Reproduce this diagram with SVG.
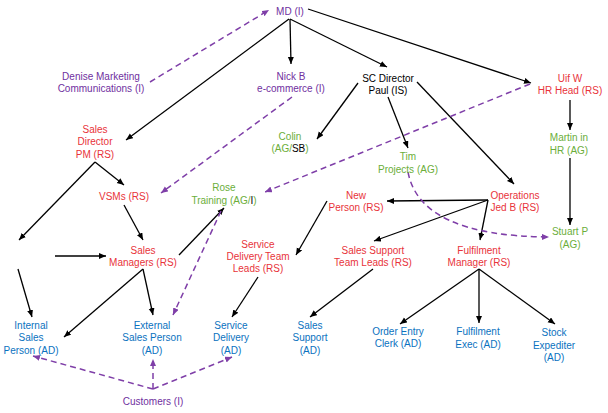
<svg xmlns="http://www.w3.org/2000/svg" width="608" height="413" viewBox="0 0 608 413">
<defs>
<marker id="ab" markerWidth="8" markerHeight="7" refX="7" refY="3" orient="auto" markerUnits="userSpaceOnUse"><path d="M0,0 L7,3 L0,6 Z" fill="#000"/></marker>
<marker id="ap" markerWidth="8" markerHeight="7" refX="7" refY="3" orient="auto" markerUnits="userSpaceOnUse"><path d="M0,0 L7,3 L0,6 Z" fill="#7F3FA8"/></marker>
<style>
text{font-family:"Liberation Sans",Arial,sans-serif;font-size:10px;text-anchor:middle}
.p{fill:#7030A0}.r{fill:#E8333A}.g{fill:#6BAE3A}.b{fill:#0A72C0}.k{fill:#000}
.s{stroke:#000;stroke-width:1.3;fill:none;marker-end:url(#ab)}
.d{stroke:#7F3FA8;stroke-width:1.5;fill:none;stroke-dasharray:6 4;marker-end:url(#ap)}
</style>
</defs>
<rect width="608" height="413" fill="#fff"/>
<g id="connectors">
<path class="s" d="M289,19 L126,140"/>
<path class="s" d="M290,19 L291,64"/>
<path class="s" d="M290,19 L387,67"/>
<path class="s" d="M308,9 L531,83"/>
<path class="s" d="M358,83 L317,139"/>
<path class="s" d="M388,97 L408,148"/>
<path class="s" d="M417,82 L514,184"/>
<path class="s" d="M570,100 L570,130"/>
<path class="s" d="M570,158 L570,225"/>
<path class="s" d="M95,162 L124,185"/>
<path class="s" d="M95,162 L19,240"/>
<path class="s" d="M124,205 L143,240"/>
<path class="s" d="M55,256 L106,256"/>
<path class="s" d="M18,269 L32,317"/>
<path class="s" d="M143,269 L64,337"/>
<path class="s" d="M143,269 L153,315"/>
<path class="s" d="M179,255 L224,208"/>
<path class="s" d="M327,201 L296,255"/>
<path class="s" d="M258,277 L232,317"/>
<path class="s" d="M488,200 L387,201"/>
<path class="s" d="M488,200 L374,241"/>
<path class="s" d="M488,200 L480,240"/>
<path class="s" d="M373,269 L310,317"/>
<path class="s" d="M479,269 L400,324"/>
<path class="s" d="M479,269 L479,323"/>
<path class="s" d="M479,269 L555,324"/>
<path class="d" d="M150,82 L269,10"/>
<path class="d" d="M292,97 L161,193"/>
<path class="d" d="M530,84 L265,192"/>
<path class="d" d="M221,211 L173,315"/>
<path class="d" d="M153,389 L33,356"/>
<path class="d" d="M153,389 L153,359"/>
<path class="d" d="M153,389 L232,357"/>
<path class="d" d="M408,172 Q420,236 549,237"/>
</g>
<g id="md"><text class="p" x="290" y="14.5">MD (I)</text></g>
<g id="denise"><text class="p" x="101" y="79.5">Denise Marketing</text><text class="p" x="101" y="91.8">Communications (I)</text></g>
<g id="nickb"><text class="p" x="291" y="79.5">Nick B</text><text class="p" x="291" y="91.8">e-commerce (I)</text></g>
<g id="scdirector"><text class="k" x="388" y="81.5">SC Director</text><text class="k" x="388" y="93.8">Paul (IS)</text></g>
<g id="uifw"><text class="r" x="570" y="81.5">Uif W</text><text class="r" x="570" y="93.8">HR Head (RS)</text></g>
<g id="salesdirector"><text class="r" x="95" y="133">Sales</text><text class="r" x="95" y="145.3">Director</text><text class="r" x="95" y="157.6">PM (RS)</text></g>
<g id="colin"><text class="g" x="290" y="139.5">Colin</text><text class="g" x="290" y="151.8">(AG/<tspan class="k">SB</tspan>)</text></g>
<g id="tim"><text class="g" x="408" y="160.2">Tim</text><text class="g" x="408" y="172.5">Projects (AG)</text></g>
<g id="martin"><text class="g" x="569" y="141.2">Martin in</text><text class="g" x="569" y="153.5">HR (AG)</text></g>
<g id="vsms"><text class="r" x="124" y="200.3">VSMs (RS)</text></g>
<g id="rose"><text class="g" x="224" y="191.2">Rose</text><text class="g" x="224" y="203.5">Training (AG/<tspan class="k">I</tspan>)</text></g>
<g id="newperson"><text class="r" x="356" y="199.2">New</text><text class="r" x="356" y="211.4">Person (RS)</text></g>
<g id="operations"><text class="r" x="515" y="198.5">Operations</text><text class="r" x="515" y="210.7">Jed B (RS)</text></g>
<g id="stuartp"><text class="g" x="570" y="235.2">Stuart P</text><text class="g" x="570" y="247.5">(AG)</text></g>
<g id="salesmanagers"><text class="r" x="143" y="254.2">Sales</text><text class="r" x="143" y="266.4">Managers (RS)</text></g>
<g id="sdtl"><text class="r" x="258" y="247.8">Service</text><text class="r" x="258" y="260.1">Delivery Team</text><text class="r" x="258" y="272.3">Leads (RS)</text></g>
<g id="sstl"><text class="r" x="373" y="253.5">Sales Support</text><text class="r" x="373" y="265.7">Team Leads (RS)</text></g>
<g id="fulfilmentmanager"><text class="r" x="479" y="254.2">Fulfilment</text><text class="r" x="479" y="266.4">Manager (RS)</text></g>
<g id="internalsales"><text class="b" x="31" y="329.2">Internal</text><text class="b" x="31" y="341.4">Sales</text><text class="b" x="31" y="353.6">Person (AD)</text></g>
<g id="externalsales"><text class="b" x="152" y="329.2">External</text><text class="b" x="152" y="341.4">Sales Person</text><text class="b" x="152" y="353.6">(AD)</text></g>
<g id="servicedelivery"><text class="b" x="231" y="329.2">Service</text><text class="b" x="231" y="341.4">Delivery</text><text class="b" x="231" y="353.6">(AD)</text></g>
<g id="salessupport"><text class="b" x="310" y="329.2">Sales</text><text class="b" x="310" y="341.4">Support</text><text class="b" x="310" y="353.6">(AD)</text></g>
<g id="orderentry"><text class="b" x="398" y="334.5">Order Entry</text><text class="b" x="398" y="346.8">Clerk (AD)</text></g>
<g id="fulfilmentexec"><text class="b" x="478" y="335.2">Fulfilment</text><text class="b" x="478" y="347.5">Exec (AD)</text></g>
<g id="stock"><text class="b" x="554" y="336.2">Stock</text><text class="b" x="554" y="348.5">Expediter</text><text class="b" x="554" y="360.7">(AD)</text></g>
<g id="customers"><text class="p" x="153" y="404.5">Customers (I)</text></g>
</svg>
